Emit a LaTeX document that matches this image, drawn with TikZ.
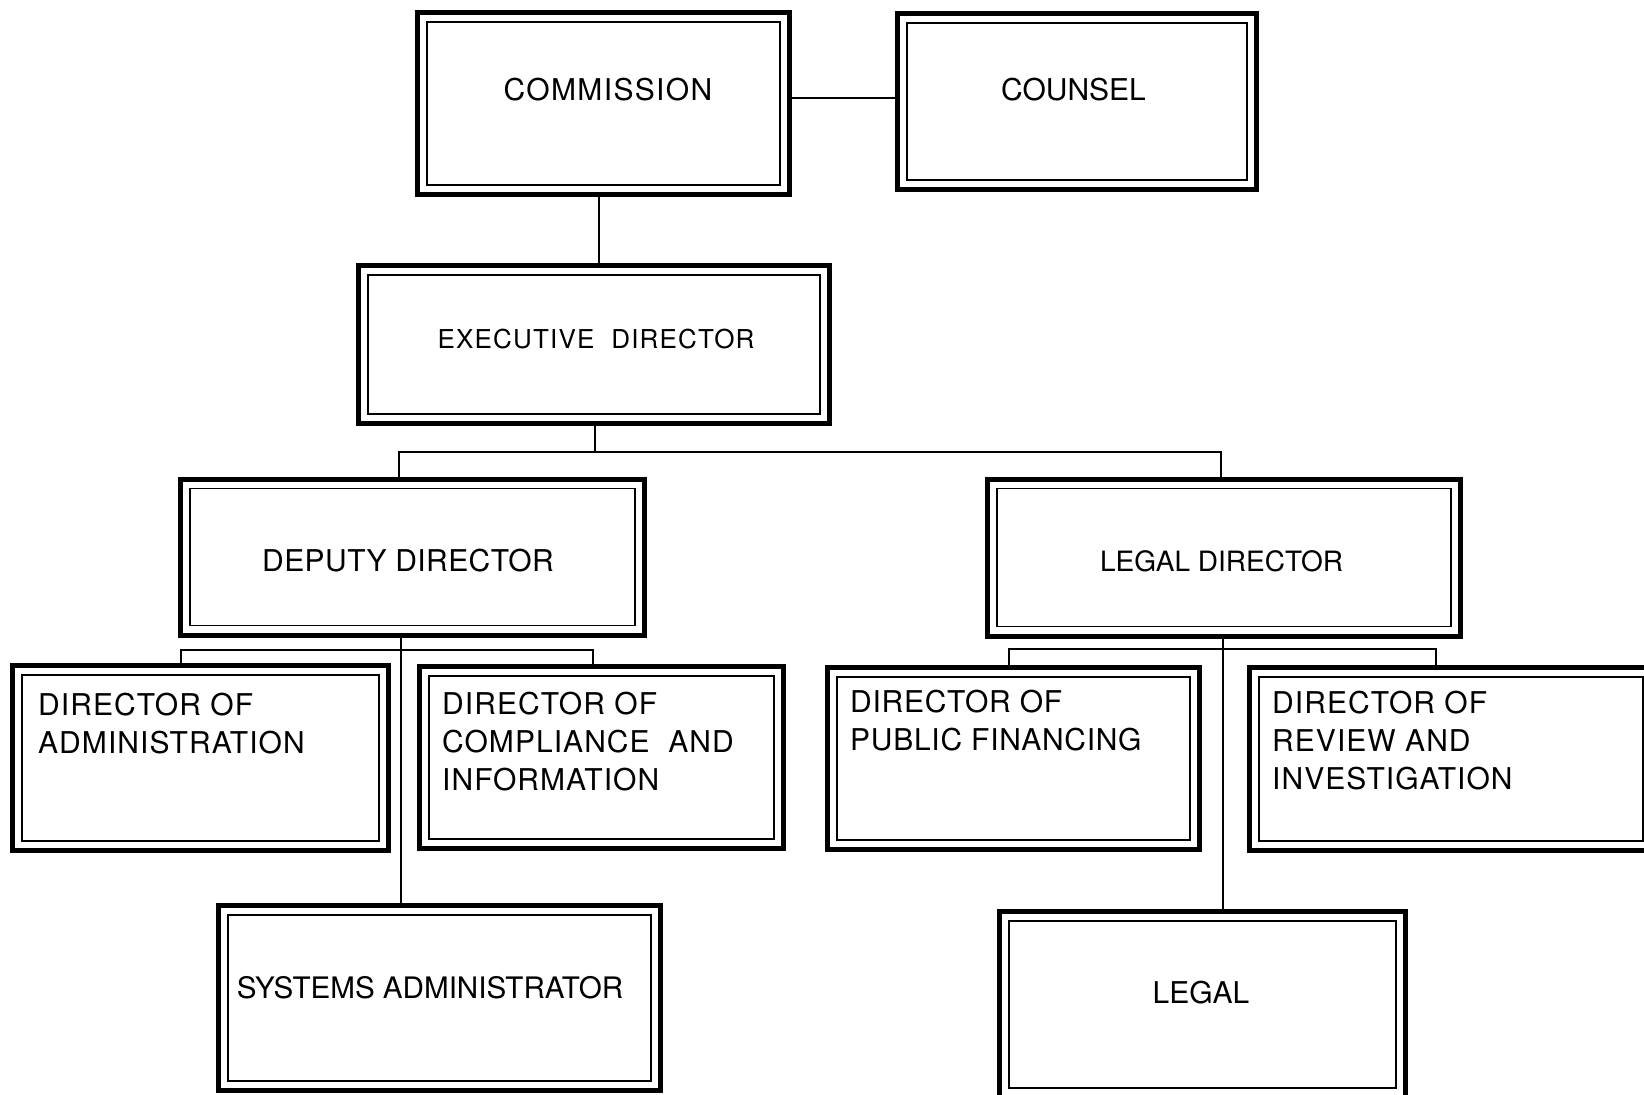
\documentclass[tikz,border=0pt]{standalone}
\usepackage{fontspec}
\setmainfont{TeX Gyre Heros}
\tikzset{
  orgbox/.style={draw, line width=5pt, inner sep=0pt,
    path picture={\draw[line width=1.8pt]
      ([shift={(9.5pt,-9.5pt)}]path picture bounding box.north west) rectangle
      ([shift={(-9.5pt,9.5pt)}]path picture bounding box.south east);}},
  lbl/.style={inner sep=0pt, font=\fontsize{30}{38}\selectfont},
  sp/.style={font=\fontsize{30}{38}\selectfont\addfontfeatures{LetterSpace=#1}},
  conn/.style={line width=2pt}
}
\begin{document}
\begin{tikzpicture}[x=1pt,y=-1pt]
\useasboundingbox (0,0) rectangle (1644,1095);
\clip (0,0) rectangle (1644,1095);
% boxes
\node[orgbox, minimum width=372pt, minimum height=182pt] (comm) at (603.5,103.5) {};
\node[orgbox, minimum width=359pt, minimum height=176pt] (couns) at (1077,101.5) {};
\node[orgbox, minimum width=471pt, minimum height=158pt] (exec) at (594,344.5) {};
\node[orgbox, minimum width=464pt, minimum height=156pt] (deputy) at (412.5,557) {};
\node[orgbox, minimum width=473pt, minimum height=157pt] (legaldir) at (1224,557.5) {};
\node[orgbox, minimum width=376pt, minimum height=185pt] (admin) at (200.5,758) {};
\node[orgbox, minimum width=364pt, minimum height=182pt] (compl) at (601.5,757.5) {};
\node[orgbox, minimum width=372pt, minimum height=182pt] (pubfin) at (1013.5,758.5) {};
\node[orgbox, minimum width=403pt, minimum height=183pt] (review) at (1451,759) {};
\node[orgbox, minimum width=442pt, minimum height=185pt] (sysadm) at (439.5,998) {};
\node[orgbox, minimum width=406pt, minimum height=186pt] (legal) at (1202.5,1004.5) {};
% connectors
\draw[conn] (comm.east |- 0,98) -- (couns.west |- 0,98);
\draw[conn] (comm.south -| 599,0) -- (exec.north -| 599,0);
\coordinate (eb) at (595,452);
\coordinate (dl) at (399,452);
\coordinate (dr) at (1221,452);
\draw[conn] (exec.south -| eb) -- (eb);
\draw[conn] (deputy.north -| dl) -- (dl) -- (dr) -- (legaldir.north -| dr);
\coordinate (dbl) at (181,650);
\coordinate (dbr) at (593,650);
\draw[conn] (deputy.south -| 401,0) -- (sysadm.north -| 401,0);
\draw[conn] (admin.north -| dbl) -- (dbl) -- (dbr) -- (compl.north -| dbr);
\coordinate (lbl) at (1009,649);
\coordinate (lbr) at (1436,649);
\draw[conn] (legaldir.south -| 1223,0) -- (legal.north -| 1223,0);
\draw[conn] (pubfin.north -| lbl) -- (lbl) -- (lbr) -- (review.north -| lbr);
% texts
\node[lbl, sp=4.5, anchor=base] (tcomm) at (608,100) {COMMISSION};
\node[lbl, anchor=base] (tcouns) at (1073.5,100) {COUNSEL};
\node[lbl, anchor=base, font=\fontsize{26}{30}\selectfont\addfontfeatures{LetterSpace=4.6}] (texec) at (596,348) {EXECUTIVE\ \ DIRECTOR};
\node[lbl, sp=1.4, anchor=base] (tdep) at (408,571) {DEPUTY DIRECTOR};
\node[lbl, anchor=base, font=\fontsize{28}{34}\selectfont] (tlegd) at (1221.5,571) {LEGAL DIRECTOR};
\node[lbl, sp=3.5, anchor=north west, align=left] (tadm) at (38,693) {DIRECTOR OF\\ADMINISTRATION};
\node[lbl, sp=3.5, anchor=north west, align=left] (tcomp) at (442,692) {DIRECTOR OF\\COMPLIANCE\ \ AND\\INFORMATION};
\node[lbl, sp=2.4, anchor=north west, align=left] (tpub) at (850,690) {DIRECTOR OF\\PUBLIC FINANCING};
\node[lbl, sp=3.5, anchor=north west, align=left] (trev) at (1272,691) {DIRECTOR OF\\REVIEW AND\\INVESTIGATION};
\node[lbl, anchor=base, font=\fontsize{29.6}{38}\selectfont] (tsys) at (430,998) {SYSTEMS ADMINISTRATOR};
\node[lbl, anchor=base] (tlegal) at (1201,1003) {LEGAL};
\end{tikzpicture}
\end{document}
